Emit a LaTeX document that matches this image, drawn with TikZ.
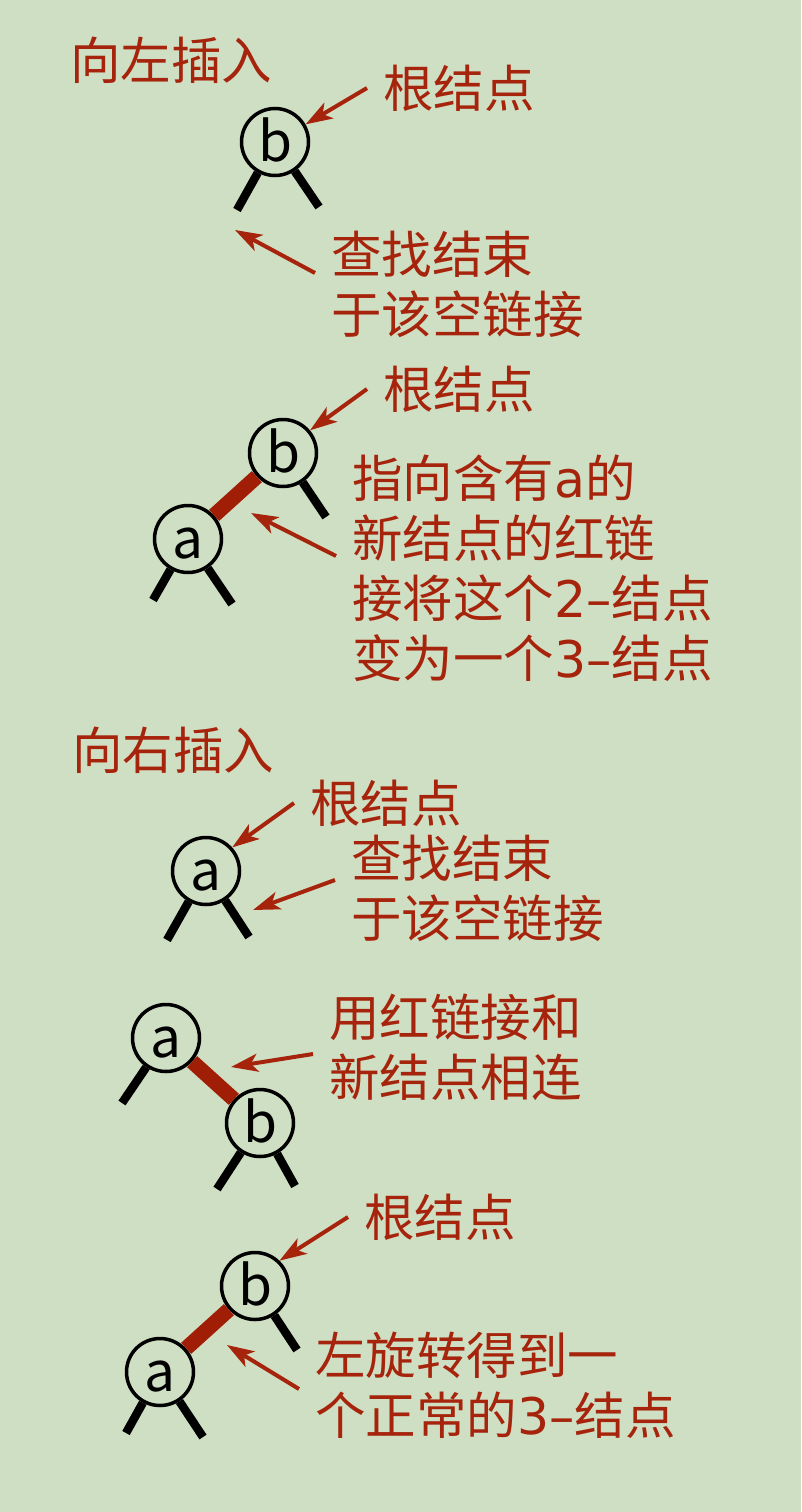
\documentclass[tikz,border=0pt]{standalone}
\usepackage{fontspec}
\newfontfamily\cjk{Noto Sans CJK SC}
\newfontfamily\lat{DejaVu Sans}
\usetikzlibrary{arrows.meta}
\definecolor{bggreen}{RGB}{207,223,196}
\definecolor{textred}{RGB}{166,36,12}
\definecolor{linkred}{RGB}{160,30,6}

\begin{document}
\begin{tikzpicture}[
        x=1pt, y=-1pt,
        tnode/.style={circle, draw, line width=3.5pt, minimum size=67pt, inner sep=0pt, fill=bggreen, text height=39pt, text depth=0pt, font=\cjk\fontsize{55}{55}\selectfont},
        kid/.style={line width=8.5pt},
        redlink/.style={line width=15pt, draw=linkred},
        pointer/.style={-{Stealth[length=27pt, width=18pt, inset=7pt]}, line width=4pt, draw=textred},
        lbl/.style={anchor=west, align=left, text=textred, inner xsep=16pt, inner ysep=0pt, font=\cjk\fontsize{50.5}{60}\selectfont}
    ]
        % Background
        \fill[bggreen] (0,0) rectangle (801,1512);
        \useasboundingbox (0,0) rectangle (801,1512);

        % Insert left: search ends at a null link
        \node[lbl] (title1) at (54,60) {向左插入};
        \node[tnode] (b1) at (275,142) {b};
        \coordinate (b1l) at (237,210);
        \coordinate (b1r) at (319,207);
        \coordinate (null1) at (235,230);
        \draw[kid] (b1) -- (b1l);
        \draw[kid] (b1) -- (b1r);
        \node[lbl] (root1) at (367,88) {根结点};
        \node[lbl] (find1) at (315,284) {查找结束\\于该空链接};
        \draw[pointer] (root1.west) -- (b1.30);
        \draw[pointer] ([yshift=11pt]find1.west) -- (null1);

        % Insert left: new red link to a
        \node[tnode] (b2) at (283,453) {b};
        \node[tnode] (a2) at (188,539) {a};
        \coordinate (b2r) at (326,517);
        \coordinate (a2l) at (153,600);
        \coordinate (a2r) at (232,604);
        \coordinate (link2) at (251,513);
        \draw[redlink] (a2) -- (b2);
        \draw[kid] (b2) -- (b2r);
        \draw[kid] (a2) -- (a2l);
        \draw[kid] (a2) -- (a2r);
        \node[lbl] (root2) at (367,389) {根结点};
        \node[lbl] (red2) at (336,568) {指向含有{\lat a}的\\新结点的红链\\接将这个{\lat 2–}结点\\变为一个{\lat 3–}结点};
        \draw[pointer] (root2.west) -- (b2.40);
        \draw[pointer] ([yshift=12pt]red2.west) -- (link2);

        % Insert right: search ends at a null link
        \node[lbl] (title2) at (56,750) {向右插入};
        \node[tnode] (a3) at (206,871) {a};
        \coordinate (a3l) at (167,940);
        \coordinate (a3r) at (249,937);
        \coordinate (null3) at (253,910);
        \draw[kid] (a3) -- (a3l);
        \draw[kid] (a3) -- (a3r);
        \node[lbl] (root3) at (294,803) {根结点};
        \node[lbl] (find3) at (335,888) {查找结束\\于该空链接};
        \draw[pointer] (root3.west) -- (a3.42);
        \draw[pointer] ([yshift=8pt]find3.west) -- (null3);

        % Insert right: red link to new node b
        \node[tnode] (a4) at (166,1038) {a};
        \node[tnode] (b4) at (260,1123) {b};
        \coordinate (a4l) at (122,1103);
        \coordinate (b4l) at (217,1189);
        \coordinate (b4r) at (295,1186);
        \coordinate (link4) at (231,1067);
        \draw[redlink] (a4) -- (b4);
        \draw[kid] (a4) -- (a4l);
        \draw[kid] (b4) -- (b4l);
        \draw[kid] (b4) -- (b4r);
        \node[lbl] (join4) at (313,1047) {用红链接和\\新结点相连};
        \draw[pointer] ([yshift=-7pt]join4.west) -- (link4);

        % Insert right: rotate left
        \node[tnode] (b5) at (255,1286) {b};
        \node[tnode] (a5) at (160,1372) {a};
        \coordinate (b5r) at (297,1350);
        \coordinate (a5l) at (126,1433);
        \coordinate (a5r) at (203,1437);
        \coordinate (link5) at (227,1345);
        \draw[redlink] (a5) -- (b5);
        \draw[kid] (b5) -- (b5r);
        \draw[kid] (a5) -- (a5l);
        \draw[kid] (a5) -- (a5r);
        \node[lbl] (root5) at (348,1217) {根结点};
        \node[lbl] (rot5) at (299,1385) {左旋转得到一\\个正常的{\lat 3–}结点};
        \draw[pointer] (root5.west) -- (b5.46);
        \draw[pointer] ([yshift=-4pt]rot5.west) -- (link5);

    \end{tikzpicture}
\end{document}
